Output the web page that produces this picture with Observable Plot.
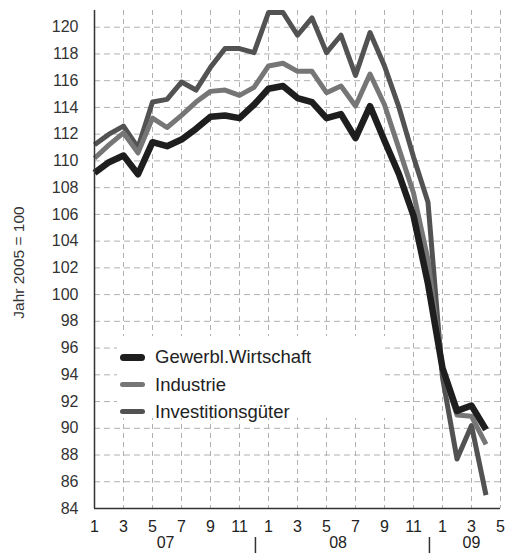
<!DOCTYPE html>
<html>
<head>
<meta charset="utf-8">
<script src="https://cdn.jsdelivr.net/npm/d3@7"></script>
<script src="https://cdn.jsdelivr.net/npm/@observablehq/plot@0.6"></script>
<style>
  body { margin: 0; background: #fff; }
  #wrap { position: relative; width: 505px; height: 554px; font-family: "Liberation Sans", Arial, sans-serif; }
  #legend { position: absolute; left: 117px; top: 336px; width: 268px; height: 82px; background: #fff; }
  .row { position: absolute; left: 3px; height: 22px; display: flex; align-items: center; color: #222; font-size: 18.5px; }
  .sw { width: 25px; border-radius: 4px; margin-right: 10px; }
</style>
</head>
<body>
<div id="wrap"></div>
<script>
// Month index 0 = Jan 2007 ... 27 = Apr 2009
const monthIndex = d3.range(28);
const seriesNames = ["Gewerbl.Wirtschaft", "Industrie", "Investitionsgüter"];
const gewerbl = [109.1, 109.9, 110.4, 109.0, 111.4, 111.1, 111.6, 112.4, 113.3, 113.4, 113.2, 114.2,
                 115.4, 115.6, 114.7, 114.4, 113.2, 113.5, 111.7, 114.1, 111.5, 109.0, 105.9, 100.8,
                 94.5, 91.3, 91.7, 89.9];
const industrie = [110.2, 111.2, 112.1, 110.6, 113.2, 112.5, 113.4, 114.4, 115.2, 115.3, 114.9, 115.5,
                   117.1, 117.3, 116.7, 116.7, 115.1, 115.6, 114.1, 116.5, 114.2, 110.9, 107.6, 102.6,
                   94.3, 91.0, 90.9, 88.8];
const invest = [111.2, 112.0, 112.6, 111.0, 114.4, 114.6, 115.9, 115.3, 117.0, 118.4, 118.4, 118.1,
                121.1, 121.1, 119.4, 120.7, 118.1, 119.4, 116.4, 119.6, 117.1, 114.0, 110.3, 106.9,
                93.8, 87.7, 90.2, 85.0];
const xTickLabels = ["1", "3", "5", "7", "9", "11", "1", "3", "5", "7", "9", "11", "1", "3", "5"];
const yearLabels = ["07", "08", "09"];
const yTickValues = d3.range(84, 121, 2);
const yLabel = "Jahr 2005 = 100";

// layout constants
const yearLabelAt = [4.9, 16.8, 26];
const separatorAt = [11.1, 23.1];
const colors = ["#1e1e1e", "#767676", "#525252"];
const widths = [6.5, 5, 5];

const allValues = [gewerbl, industrie, invest];
const rows = [];
seriesNames.forEach((name, k) => allValues[k].forEach((v, i) => rows.push({series: name, i: monthIndex[i], v})));

const xTicks = d3.range(0, 29, 2);
const gridColor = "#b0b0b0";

const lineMark = (k) => Plot.line(rows.filter(r => r.series === seriesNames[k]), {
  x: "i", y: "v", stroke: colors[k], strokeWidth: widths[k], strokeLinejoin: "round", strokeLinecap: "butt"
});

const plot = Plot.plot({
  width: 505,
  height: 554,
  marginLeft: 94,
  marginRight: 5,
  marginTop: 10,
  marginBottom: 46,
  x: {domain: [0, 28]},
  y: {domain: [84, 121.25]},
  style: {fontFamily: "'Liberation Sans', Arial, sans-serif", fontSize: "16px", color: "#222", background: "white"},
  marks: [
    Plot.ruleY(yTickValues.filter(d => d > 84), {stroke: gridColor, strokeDasharray: "6,4", strokeWidth: 1}),
    Plot.ruleX(xTicks.filter(d => d > 0), {stroke: gridColor, strokeDasharray: "5,4", strokeWidth: 1}),
    lineMark(2),
    lineMark(1),
    lineMark(0),
    Plot.ruleX([0], {stroke: "#333", strokeWidth: 1.5}),
    Plot.ruleY([84], {stroke: "#333", strokeWidth: 1.5}),
    Plot.axisY({ticks: yTickValues, tickSize: 0, tickPadding: 16, label: null, fill: "#333"}),
    Plot.axisX({ticks: xTicks, tickSize: 0, tickPadding: 12, label: null, fill: "#222",
                tickFormat: d => xTickLabels[Math.round(d / 2)]}),
    Plot.text(yearLabels, {x: (d, i) => yearLabelAt[i], frameAnchor: "bottom", dy: 39, text: d => d, fill: "#222"}),
    Plot.ruleX(separatorAt, {y1: 81.83, y2: 80.63, stroke: "#333", strokeWidth: 1.5}),
    Plot.text([yLabel], {frameAnchor: "left", textAnchor: "middle", dx: -75, dy: 3, rotate: -90,
                         text: d => d, fontSize: 15.5, fill: "#333"})
  ]
});

const wrap = document.getElementById("wrap");
wrap.appendChild(plot);

// legend (inside the plot area, white box)
const legend = document.createElement("div");
legend.id = "legend";
const rowTops = [10, 37.5, 64.5];
seriesNames.forEach((name, k) => {
  const r = document.createElement("div");
  r.className = "row";
  r.style.top = rowTops[k] + "px";
  const sw = document.createElement("div");
  sw.className = "sw";
  sw.style.height = (k === 0 ? 7 : 4.5) + "px";
  sw.style.background = colors[k];
  const t = document.createElement("span");
  t.textContent = name;
  r.appendChild(sw);
  r.appendChild(t);
  legend.appendChild(r);
});
wrap.appendChild(legend);
</script>
</body>
</html>
